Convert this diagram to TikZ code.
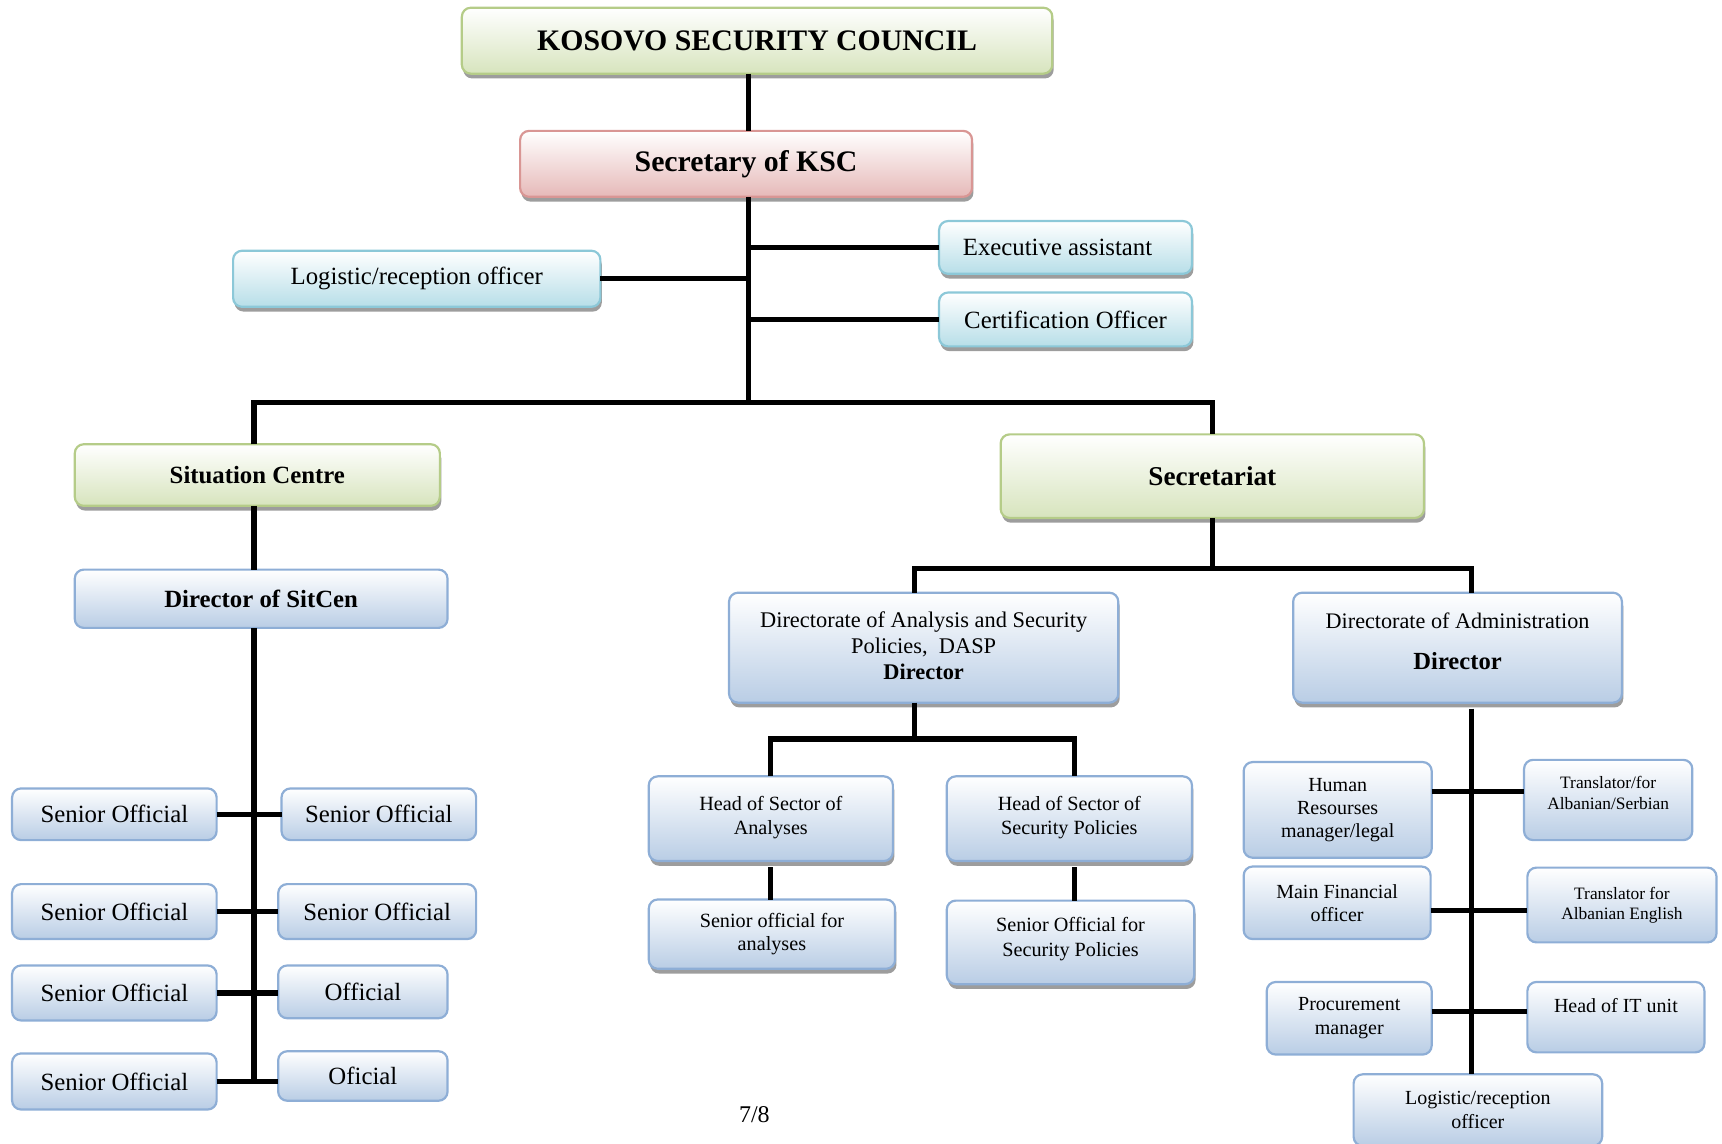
\documentclass[tikz,border=0pt]{standalone}
\usepackage{fontspec}
\setmainfont{Liberation Serif}
\usetikzlibrary{shadows}
\definecolor{gB}{HTML}{B5CC88}
\definecolor{gF}{HTML}{D7E4BD}
\definecolor{pB}{HTML}{D99694}
\definecolor{pF}{HTML}{E6B9B8}
\definecolor{cB}{HTML}{8CC8D8}
\definecolor{cF}{HTML}{B7DEE8}
\definecolor{bB}{HTML}{8EAED6}
\definecolor{bF}{HTML}{B9CDE5}
\newcommand\fz[2]{\fontsize{#1}{#2}\selectfont}
\tikzset{
  box/.style={draw, rounded corners=4.5pt, line width=1.1pt, inner sep=0pt, outer sep=0pt, align=center, top color=white},
  greenbox/.style={box, draw=gB, bottom color=gF},
  pinkbox/.style={box, draw=pB, bottom color=pF},
  cyanbox/.style={box, draw=cB, bottom color=cF},
  bluebox/.style={box, draw=bB, bottom color=bF},
  shad/.style={drop shadow={shadow xshift=0.7pt, shadow yshift=-2.4pt, fill=black!45, opacity=0.85}},
  conn/.style={line width=2.6pt, black},
}
\newcommand\bx[7]{\node[#6, minimum width={(#4-#2)*0.55pt}, minimum height={(#5-#3)*0.55pt}] (#1) at ({(#2+#4)/2},{(#3+#5)/2}) {#7};}
\begin{document}
\begin{tikzpicture}[x=0.55pt,y=-0.55pt]
\useasboundingbox (0,0) rectangle (1566,1040);
% top
\bx{ksc}{420}{7}{957}{67}{greenbox,shad,font={\fz{14.9}{17}\bfseries}}{KOSOVO SECURITY COUNCIL}
\bx{sec}{473}{119}{884}{179}{pinkbox,shad,font={\fz{14.9}{17}\bfseries}}{Secretary of KSC}
\bx{logA}{212}{228}{546}{279}{cyanbox,shad,font={\fz{12.4}{14}}}{Logistic/reception officer}
\bx{exe}{854}{201}{1084}{249}{cyanbox,shad,font={\fz{12.4}{14}}}{Executive assistant\hspace{8pt}}
\bx{cert}{854}{266}{1084}{315}{cyanbox,shad,font={\fz{12.4}{14}}}{Certification Officer}
% level 2
\bx{sit}{68}{404}{400}{460}{greenbox,shad,font={\fz{12.4}{14}\bfseries}}{Situation Centre}
\bx{secr}{910}{395}{1295}{471}{greenbox,shad,font={\fz{13.6}{15}\bfseries}}{Secretariat}
\bx{dir}{68}{518}{407}{571}{bluebox,font={\fz{12.4}{14}\bfseries}}{Director of SitCen}
% SitCen officials
\bx{soA}{11}{717}{197}{764}{bluebox,font={\fz{12.4}{14}}}{Senior Official}
\bx{soB}{11}{804}{197}{854}{bluebox,font={\fz{12.4}{14}}}{Senior Official}
\bx{soC}{11}{878}{197}{928}{bluebox,font={\fz{12.4}{14}}}{Senior Official}
\bx{soD}{11}{958}{197}{1009}{bluebox,font={\fz{12.4}{14}}}{Senior Official}
\bx{srA}{256}{717}{433}{764}{bluebox,font={\fz{12.4}{14}}}{Senior Official}
\bx{srB}{253}{804}{433}{854}{bluebox,font={\fz{12.4}{14}}}{Senior Official}
\bx{srC}{253}{878}{407}{926}{bluebox,font={\fz{12.4}{14}}}{Official}
\bx{srD}{253}{956}{407}{1001}{bluebox,font={\fz{12.4}{14}}}{Oficial}
% directorates
\bx{dasp}{663}{539}{1017}{639}{bluebox,shad,font={\fz{11.2}{12.9}}}{Directorate of Analysis and Security\\Policies,\ \ DASP\\\textbf{Director}\\[-10.7pt]\mbox{}}
\bx{da}{1176}{539}{1475}{639}{bluebox,shad,font={\fz{11.1}{13}}}{Directorate of Administration\\[7.5pt]{\fz{12.3}{14}\bfseries Director}\\[-6.4pt]\mbox{}}
\bx{hsa}{590}{706}{812}{783}{bluebox,shad,font={\fz{10.1}{12.1}}}{Head of Sector of\\Analyses\\[-8.5pt]\mbox{}}
\bx{hssp}{861}{706}{1084}{783}{bluebox,shad,font={\fz{10.1}{12.1}}}{Head of Sector of\\Security Policies\\[-8.5pt]\mbox{}}
\bx{soa}{590}{818}{814}{881}{bluebox,shad,font={\fz{10.1}{11.6}}}{Senior official for\\analyses}
\bx{sosp}{861}{819}{1086}{895}{bluebox,shad,font={\fz{10.1}{12.1}}}{Senior Official for\\Security Policies\\[-6.6pt]\mbox{}}
% administration
\bx{hr}{1131}{693}{1302}{780}{bluebox,font={\fz{10}{11.5}}}{Human\\Resourses\\manager/legal}
\bx{trA}{1386}{691}{1539}{764}{bluebox,font={\fz{8.7}{10.4}}}{Translator/for\\Albanian/Serbian\\[-3pt]\mbox{}}
\bx{mf}{1131}{788}{1301}{854}{bluebox,font={\fz{10}{11.5}}}{Main Financial\\officer}
\bx{trB}{1389}{789}{1561}{857}{bluebox,font={\fz{8.7}{10}}}{Translator for\\Albanian English}
\bx{pm}{1152}{893}{1302}{959}{bluebox,font={\fz{10}{12}}}{Procurement\\manager}
\bx{it}{1389}{893}{1550}{957}{bluebox,font={\fz{10}{12}}}{Head of IT unit\\\mbox{}}
\bx{logB}{1231}{977}{1457}{1042}{bluebox,font={\fz{10}{12}}}{Logistic/reception\\officer}
\node[font={\fz{12}{14}}] (pg) at (686,1014) {7/8};
% helper coordinates
\coordinate (bar) at (681,366);
\coordinate (st) at (231,0);
\coordinate (bL) at (832,517);
\coordinate (bR) at (1338,517);
\coordinate (dL) at (701,672);
\coordinate (dR) at (977,672);
\coordinate (rA) at (0,720);
\coordinate (rB) at (0,828);
\coordinate (rC) at (0,920);
% connectors
\draw[conn] (ksc.south -| bar) -- (sec.north -| bar);
\draw[conn] (sec.south -| bar) -- (bar);
\draw[conn] (exe.west) -- (exe.west -| bar);
\draw[conn] (cert.west) -- (cert.west -| bar);
\draw[conn] (logA.east) -- (logA.east -| bar);
\draw[conn] (sit.north -| st) -- (st |- bar) -- (secr.north |- bar) -- (secr.north);
\draw[conn] (sit.south -| st) -- (dir.north -| st);
\draw[conn] (dir.south -| st) -- (st |- soD.east);
\draw[conn] (soA.east) -- (soA.east -| srA.west);
\draw[conn] (soB.east) -- (soB.east -| srB.west);
\draw[conn] (soC.east) -- (soC.east -| srC.west);
\draw[conn] (soD.east) -- (soD.east -| srD.west);
\draw[conn] (secr.south) -- (secr.south |- bL);
\draw[conn] (bL |- dasp.north) -- (bL) -- (bR) -- (bR |- da.north);
\draw[conn] (bL |- dasp.south) -- (bL |- dL);
\draw[conn] (dL |- hsa.north) -- (dL) -- (dR) -- (dR |- hssp.north);
\draw[conn] ([yshift=-3pt]dL |- hsa.south) -- (dL |- soa.north);
\draw[conn] ([yshift=-3pt]dR |- hssp.south) -- (dR |- sosp.north);
\draw[conn] ([yshift=-3pt]bR |- da.south) -- (bR |- logB.north);
\draw[conn] (hr.east |- rA) -- (trA.west |- rA);
\draw[conn] (mf.east |- rB) -- (trB.west |- rB);
\draw[conn] (pm.east |- rC) -- (it.west |- rC);
\end{tikzpicture}
\end{document}
